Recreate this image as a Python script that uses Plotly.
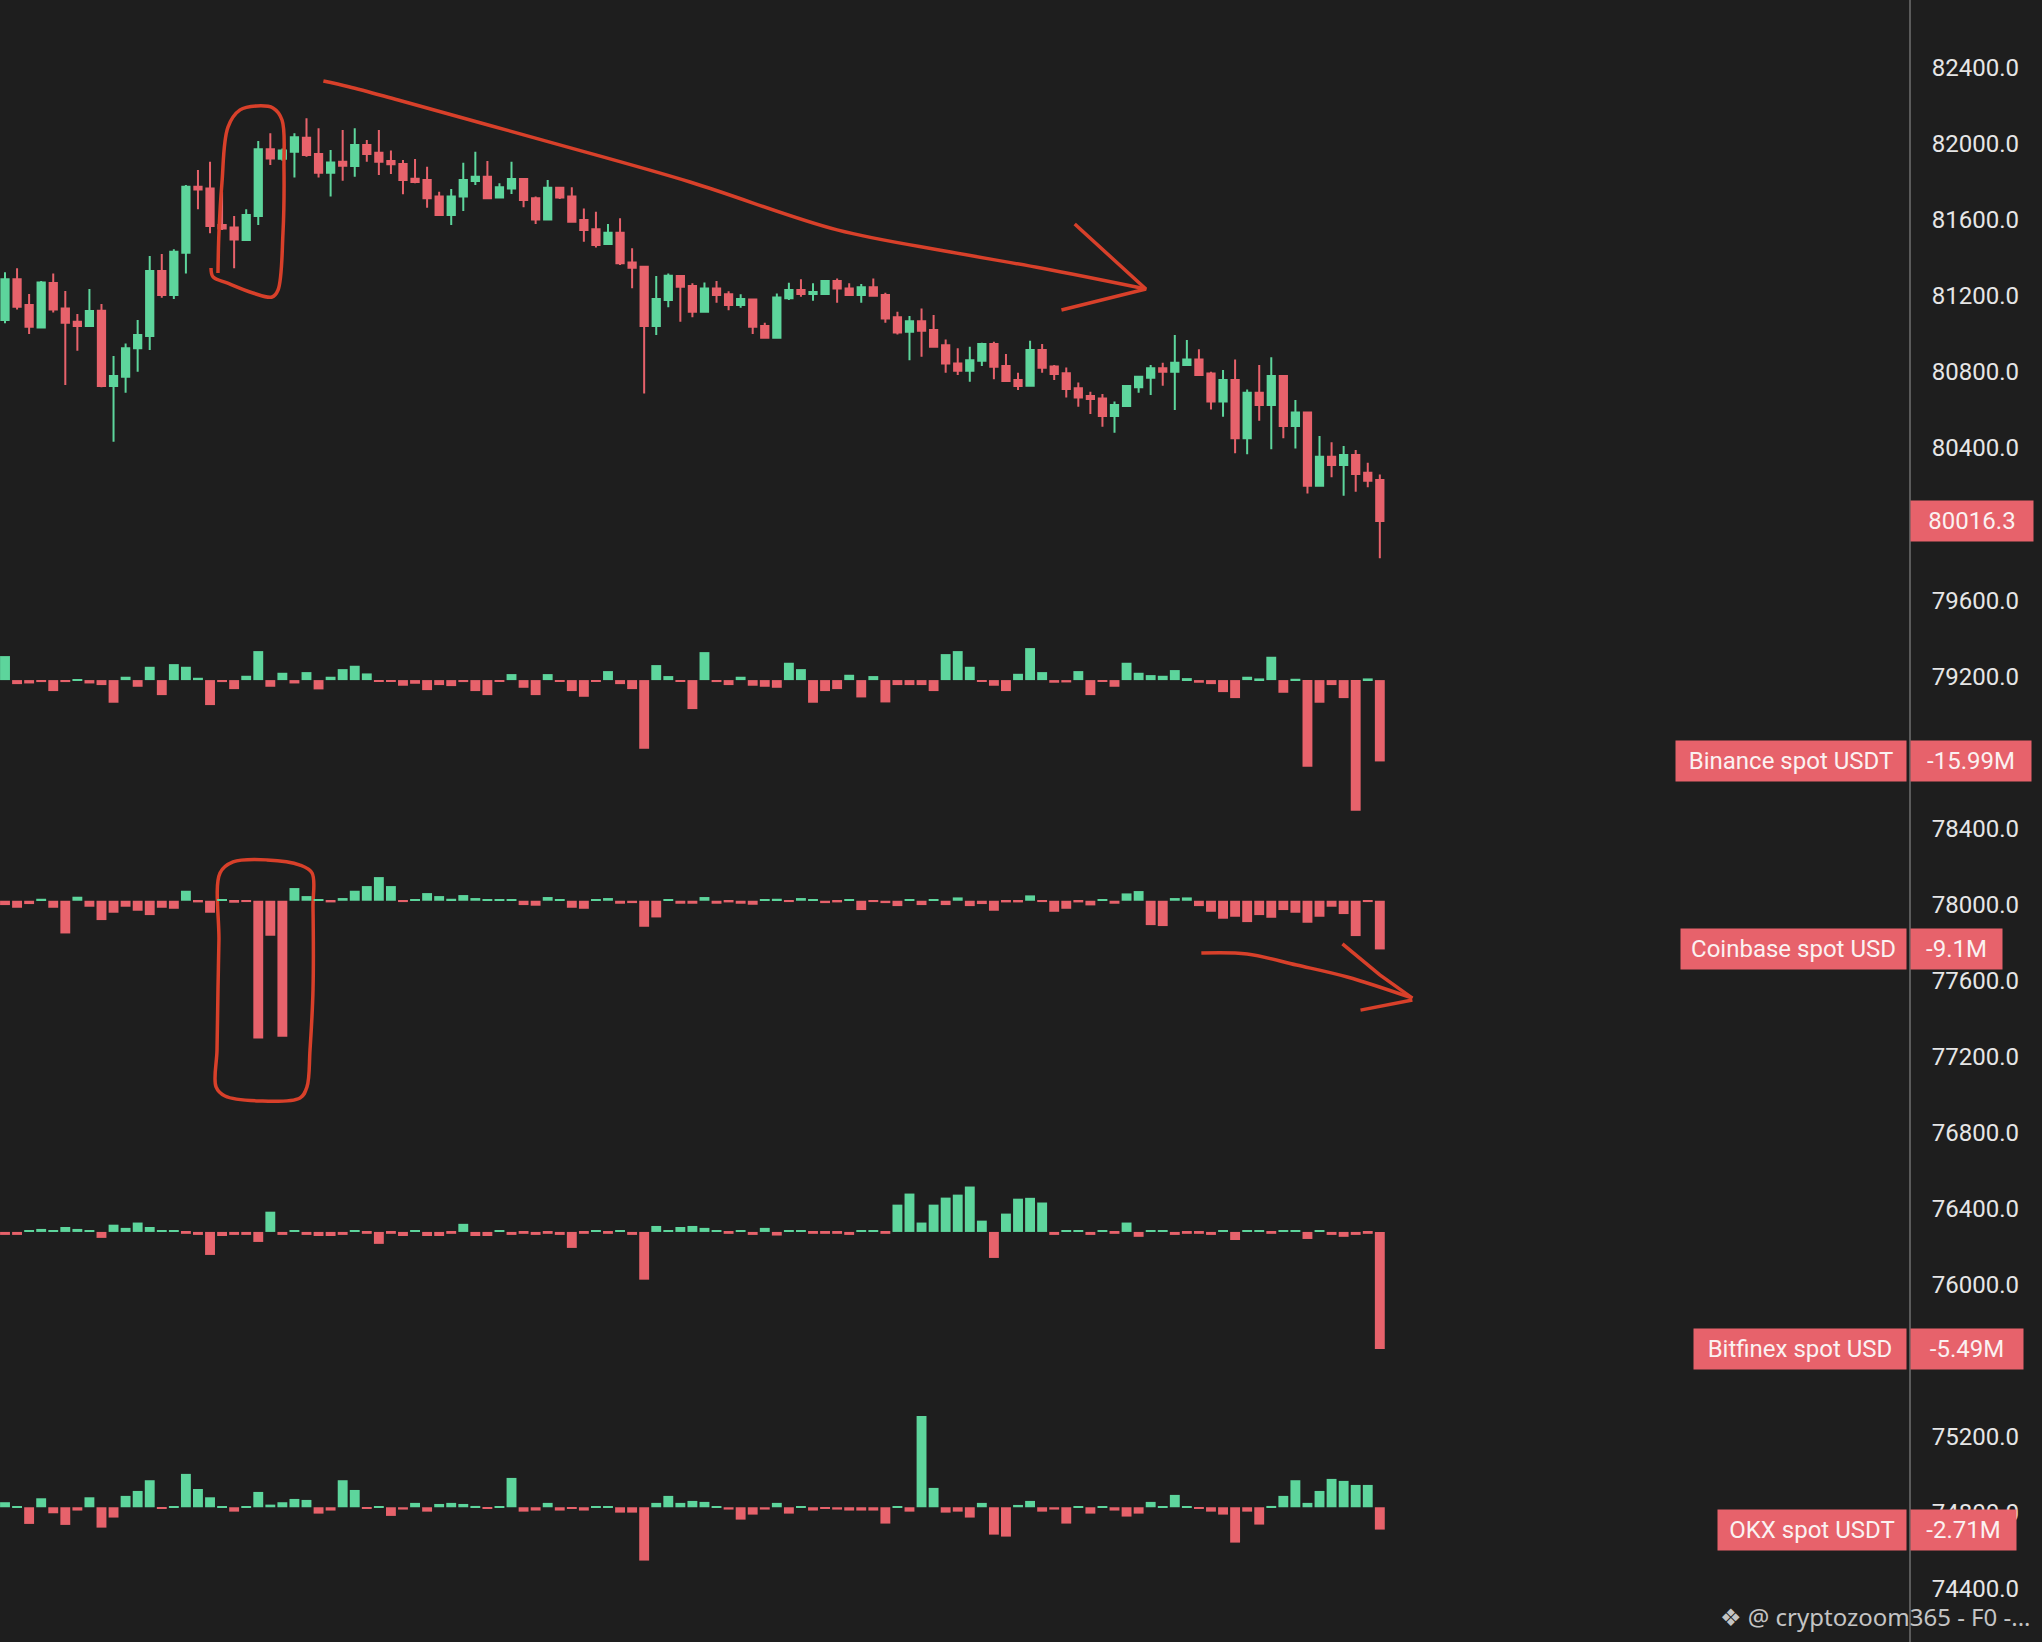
import plotly.graph_objects as pgo

# ---- price candles (one per bar slot) ----
opens = [81073, 81287, 81152, 81034, 81268, 81134, 81064, 81041, 81122, 80726,
         80775, 80924, 80989, 81331, 81204, 81427, 81774, 81765, 81573, 81560,
         81494, 81620, 81971, 81921, 81958, 82032, 81946, 81848, 81906, 81883,
         81993, 81953, 81909, 81893, 81816, 81809, 81722, 81625, 81722, 81804,
         81827, 81718, 81765, 81815, 81713, 81602, 81769, 81722, 81599, 81550,
         81473, 81532, 81376, 81353, 81041, 81178, 81304, 81252, 81117, 81239,
         81209, 81152, 81181, 81041, 80980, 81187, 81231, 81210, 81210, 81278,
         81239, 81204, 81245, 81204, 81087, 81011, 81067, 81020, 80941, 80845,
         80806, 80859, 80947, 80831, 80757, 80728, 80915, 80828, 80793, 80714,
         80673, 80661, 80568, 80621, 80719, 80770, 80819, 80801, 80836, 80866,
         80792, 80644, 80757, 80451, 80691, 80626, 80779, 80516, 80587, 80202,
         80354, 80311, 80363, 80270, 80232]
highs = [81324, 81345, 81210, 81278, 81318, 81226, 81105, 81236, 81157, 80884,
         80950, 81073, 81410, 81420, 81445, 81783, 81862, 81906, 81748, 81620,
         81655, 82014, 82055, 81975, 82055, 82134, 82081, 81967, 82072, 82081,
         82020, 82072, 81964, 81914, 81920, 81879, 81748, 81762, 81900, 81958,
         81909, 81792, 81906, 81815, 81722, 81809, 81771, 81771, 81660, 81643,
         81578, 81608, 81450, 81353, 81304, 81318, 81304, 81266, 81271, 81278,
         81225, 81208, 81181, 81059, 81213, 81269, 81287, 81266, 81283, 81292,
         81266, 81262, 81292, 81216, 81117, 81094, 81134, 81099, 80971, 80924,
         80932, 80954, 80959, 80894, 80796, 80964, 80947, 80836, 80824, 80745,
         80696, 80684, 80644, 80726, 80778, 80836, 80849, 80994, 80968, 80919,
         80801, 80810, 80866, 80708, 80836, 80877, 80779, 80652, 80587, 80463,
         80430, 80410, 80389, 80323, 80261]
lows = [81056, 81129, 80999, 81031, 81112, 80731, 80912, 81041, 80719, 80433,
        80691, 80801, 80915, 81190, 81183, 81318, 81655, 81529, 81546, 81345,
        81490, 81573, 81888, 81910, 81823, 81932, 81823, 81722, 81806, 81827,
        81906, 81836, 81841, 81734, 81792, 81664, 81620, 81573, 81646, 81783,
        81708, 81718, 81736, 81666, 81578, 81602, 81709, 81585, 81485, 81455,
        81473, 81362, 81240, 80687, 80994, 81140, 81064, 81087, 81117, 81164,
        81125, 81138, 81000, 80975, 80975, 81178, 81195, 81174, 81210, 81164,
        81199, 81164, 81201, 81059, 80997, 80862, 80880, 80929, 80796, 80784,
        80748, 80831, 80761, 80747, 80705, 80728, 80796, 80757, 80665, 80617,
        80579, 80512, 80480, 80621, 80691, 80679, 80728, 80600, 80831, 80780,
        80603, 80565, 80372, 80367, 80544, 80393, 80451, 80398, 80161, 80202,
        80246, 80149, 80170, 80193, 79820]
closes = [81287, 81143, 81038, 81271, 81129, 81059, 81041, 81120, 80726, 80779,
          80924, 80994, 81331, 81204, 81432, 81774, 81760, 81567, 81555, 81497,
          81625, 81971, 81923, 81964, 82034, 81941, 81848, 81902, 81885, 81993,
          81946, 81906, 81892, 81809, 81799, 81713, 81625, 81722, 81809, 81827,
          81713, 81771, 81815, 81704, 81602, 81769, 81718, 81590, 81546, 81467,
          81532, 81371, 81348, 81041, 81183, 81306, 81248, 81117, 81239, 81204,
          81152, 81183, 81038, 80980, 81192, 81231, 81210, 81220, 81278, 81239,
          81204, 81245, 81201, 81081, 81008, 81067, 81017, 80932, 80845, 80806,
          80862, 80947, 80827, 80752, 80726, 80915, 80822, 80789, 80710, 80666,
          80658, 80568, 80626, 80726, 80775, 80819, 80801, 80849, 80866, 80784,
          80644, 80757, 80451, 80691, 80626, 80779, 80516, 80587, 80202, 80354,
          80311, 80363, 80263, 80228, 80016.3]

# ---- spot flow bars per exchange, millions ----
binance = [4.72, -0.79, -0.66, -0.39, -2.16, -0.39, 0.20, -0.66, -0.98, -4.45,
           0.66, -1.31, 2.62, -2.95, 3.14, 2.62, 0.46, -4.91, -0.39, -1.77,
           0.85, 5.70, -1.31, 1.44, -0.66, 1.57, -1.83, 0.66, 2.16, 2.82,
           1.31, -0.20, -0.20, -1.11, -0.72, -1.97, -0.98, -1.18, -0.39, -2.16,
           -2.95, -0.26, 1.18, -1.51, -2.95, 1.18, -0.26, -2.16, -3.28, -0.26,
           1.77, -0.79, -1.77, -13.50, 2.95, 0.79, -0.26, -5.70, 5.50, -0.39,
           -0.98, 0.66, -1.11, -1.31, -1.51, 3.41, 2.16, -4.45, -2.16, -1.77,
           1.05, -3.41, 0.79, -4.39, -0.98, -0.98, -0.98, -2.16, 5.11, 5.70,
           2.62, -0.26, -1.11, -2.16, 1.24, 6.29, 1.57, -0.52, -0.46, 1.77,
           -2.95, -0.33, -1.31, 3.41, 1.44, 0.98, 0.85, 1.97, 0.39, -0.52,
           -0.79, -2.36, -3.54, 0.66, 0.33, 4.59, -2.49, 0.26, -17.03, -4.45,
           -0.98, -3.54, -25.68, 0.33, -15.99]
coinbase = [-0.81, -1.31, -0.62, 0.37, -1.31, -6.11, 0.75, -1.12, -3.61, -2.24,
            -1.12, -1.87, -2.68, -1.31, -1.50, 1.87, -0.31, -2.24, 0.25, -0.37,
            -0.25, -25.73, -6.54, -25.42, 2.37, 0.87, 0.31, -0.31, 0.50, 1.87,
            2.74, 4.42, 2.74, -0.25, 0.25, 1.43, 0.87, 0.37, 1.06, 0.50,
            0.25, 0.25, 0.25, -0.81, -0.93, 0.69, 0.25, -1.31, -1.50, 0.25,
            0.50, -0.56, -0.44, -4.86, -3.12, 0.25, -0.56, -0.56, 0.69, -0.56,
            -0.31, -0.56, -0.75, 0.25, 0.37, -0.25, 0.50, 0.31, -0.44, -0.31,
            0.25, -1.74, -0.25, -0.44, -1.00, 0.25, -0.81, 0.25, -0.81, 0.62,
            -1.00, -0.62, -1.87, -0.31, -0.31, 1.00, -0.25, -2.06, -1.50, -0.31,
            -0.87, 0.25, -0.56, 1.37, 1.81, -4.55, -4.73, 0.50, 0.62, -1.00,
            -2.06, -3.36, -2.99, -3.99, -2.68, -3.18, -1.74, -2.24, -4.11, -2.99,
            -1.12, -2.49, -6.60, -0.25, -9.10]
bitfinex = [-0.14, -0.14, 0.05, 0.14, 0.05, 0.23, 0.14, 0.05, -0.28, 0.34,
            0.19, 0.44, 0.23, 0.05, 0.09, -0.09, -0.14, -1.08, -0.19, -0.14,
            -0.14, -0.47, 0.95, -0.14, 0.05, -0.14, -0.19, -0.19, -0.14, 0.05,
            -0.09, -0.56, -0.09, -0.19, 0.05, -0.19, -0.19, -0.09, 0.38, -0.19,
            -0.19, 0.05, -0.14, -0.09, -0.14, -0.09, -0.14, -0.75, -0.09, 0.05,
            -0.09, 0.05, -0.14, -2.24, 0.28, 0.05, 0.23, 0.28, 0.19, 0.05,
            -0.09, 0.05, -0.14, 0.19, -0.17, 0.05, 0.05, -0.09, -0.09, -0.09,
            -0.14, 0.05, 0.05, -0.09, 1.28, 1.80, 0.44, 1.28, 1.61, 1.75,
            2.13, 0.53, -1.22, 0.86, 1.56, 1.60, 1.38, -0.14, 0.05, 0.09,
            -0.14, 0.09, -0.09, 0.44, -0.23, 0.05, 0.05, -0.14, -0.09, -0.09,
            -0.14, 0.05, -0.38, 0.09, 0.05, -0.09, 0.05, 0.09, -0.33, 0.05,
            -0.14, -0.23, -0.14, -0.09, -5.49]
okx = [0.61, 0.12, -2.02, 1.09, -0.73, -2.14, -0.40, 1.21, -2.47, -1.25,
       1.38, 1.98, 3.28, -0.20, 0.12, 4.05, 2.22, 1.21, 0.12, -0.53,
       0.12, 1.86, 0.32, 0.61, 1.01, 0.89, -0.77, -0.40, 3.28, 2.10,
       -0.16, 0.12, -1.05, -0.28, 0.53, -0.53, 0.40, 0.53, 0.40, 0.16,
       -0.16, 0.12, 3.56, -0.53, -0.40, 0.53, -0.40, -0.20, -0.40, 0.12,
       0.12, -0.65, -0.65, -6.47, 0.53, 1.38, 0.53, 0.77, 0.65, 0.12,
       -0.28, -1.50, -0.89, -0.28, 0.53, -0.77, 0.12, -0.40, -0.16, -0.28,
       -0.40, -0.40, -0.40, -1.98, 0.12, -0.53, 11.08, 2.35, -0.65, -0.53,
       -1.25, 0.53, -3.32, -3.56, 0.28, 0.77, -0.53, -0.28, -1.98, 0.12,
       -0.77, 0.12, -0.40, -1.13, -0.77, 0.65, 0.12, 1.50, 0.12, -0.16,
       -0.53, -0.89, -4.29, -0.53, -2.10, 0.16, 1.38, 3.28, 0.53, 1.98,
       3.44, 3.20, 2.71, 2.71, -2.71]

flow_names = ["Binance spot USDT", "Coinbase spot USD", "Bitfinex spot USD", "OKX spot USDT"]
flow_labels = ["-15.99M", "-9.1M", "-5.49M", "-2.71M"]
last_price_label = "80016.3"

# ---- hand drawn marks, (bar index, price) ----
trend_arrow = [(26.4, 82330), (28.5, 82300), (32.6, 82230), (44.8, 82015), (56.8, 81799),
               (69.0, 81547), (78.4, 81431), (86.0, 81345), (94.6, 81236)]
trend_head = [(88.7, 81578), (94.6, 81236), (87.6, 81126)]
candle_loop = [(17.66, 81320), (17.74, 81531), (17.99, 81794), (18.49, 82088), (19.49, 82178),
               (20.90, 82199), (22.22, 82188), (22.97, 82125), (23.13, 81878), (23.05, 81531),
               (22.64, 81231), (22.14, 81194), (20.56, 81215), (18.41, 81268), (17.25, 81300),
               (17.08, 81347)]
flow_loop = [(17.83, 78165), (18.91, 78223), (21.72, 78234), (24.46, 78207), (25.46, 78165),
             (25.54, 77986), (25.54, 77550), (25.29, 77234), (25.04, 77040), (24.46, 76982),
             (21.14, 76966), (18.24, 76992), (17.50, 77040), (17.58, 77234), (17.66, 77550),
             (17.74, 77813), (17.83, 78165)]
flow_arrow = [(99.2, 77744), (103.0, 77739), (107.1, 77681), (111.3, 77618), (116.7, 77507)]
flow_head_a = [(110.9, 77792), (114.0, 77629), (116.7, 77507)]
flow_head_b = [(112.4, 77444), (116.7, 77497)]

GREEN = "#5dd59c"
RED = "#e7626b"
INK = "#d8402a"
BG = "#1e1e1e"
FONT = "Roboto, Liberation Sans, sans-serif"

idx = list(range(len(closes)))

fig = pgo.Figure()

fig.add_trace(pgo.Candlestick(x=idx, open=opens, high=highs, low=lows, close=closes,
                              increasing=dict(line=dict(color=GREEN, width=2), fillcolor=GREEN),
                              decreasing=dict(line=dict(color=RED, width=2), fillcolor=RED),
                              whiskerwidth=0, showlegend=False, hoverinfo="skip"))

flows = [binance, coinbase, bitfinex, okx]
for k, vals in enumerate(flows):
    fig.add_trace(pgo.Bar(x=idx, y=vals, width=0.82,
                          marker=dict(color=[GREEN if v >= 0 else RED for v in vals], line_width=0),
                          yaxis="y%d" % (k + 2), showlegend=False, hoverinfo="skip"))

for pts in [trend_arrow, candle_loop, flow_loop, flow_arrow]:
    fig.add_trace(pgo.Scatter(x=[p[0] for p in pts], y=[p[1] for p in pts], mode="lines",
                              line=dict(color=INK, width=3.5, shape="spline", smoothing=1.0),
                              showlegend=False, hoverinfo="skip"))
for pts in [trend_head, flow_head_a, flow_head_b]:
    fig.add_trace(pgo.Scatter(x=[p[0] for p in pts], y=[p[1] for p in pts], mode="lines",
                              line=dict(color=INK, width=3.5),
                              showlegend=False, hoverinfo="skip"))

# overlay axes: baseline placement for each flow row
flow_ranges = [[-189.1, 133.7], [-138.5, 168.3], [-19.24, 57.8], [-16.35, 182.9]]
for k, rng in enumerate(flow_ranges):
    fig.layout["yaxis%d" % (k + 2)] = dict(overlaying="y", range=rng, visible=False, fixedrange=True)

fig.update_layout(
    width=2042, height=1642,
    paper_bgcolor=BG, plot_bgcolor=BG,
    margin=dict(l=0, r=133, t=0, b=0),
    barmode="overlay", boxgap=0.14,
    xaxis=dict(range=[-0.415, 157.88], visible=False, rangeslider=dict(visible=False)),
    yaxis=dict(range=[74121, 82756], side="right", dtick=400, tick0=0, tickformat=".1f",
               showgrid=False, zeroline=False, showline=True, linecolor="#5a5a5a", linewidth=2,
               ticks="", ticklabelstandoff=16,
               tickfont=dict(family=FONT, size=24, color="#e6e6e6")),
)

box_font = dict(family=FONT, size=24, color="#fbf1f1")
name_widths = [216, 211, 198, 174]
value_widths = [106, 77, 98, 91]
for k, vals in enumerate(flows):
    yref = "y%d" % (k + 2)
    fig.add_annotation(xref="paper", x=1, xanchor="right", xshift=-2, yref=yref, y=vals[-1],
                       yanchor="middle", text=flow_names[k], showarrow=False, font=box_font,
                       bgcolor=RED, borderpad=7, height=26, width=name_widths[k])
    fig.add_annotation(xref="paper", x=1, xanchor="left", xshift=1, yref=yref, y=vals[-1],
                       yanchor="middle", text=flow_labels[k], showarrow=False, font=box_font,
                       bgcolor=RED, borderpad=7, height=26, width=value_widths[k])

fig.add_annotation(xref="paper", x=1, xanchor="left", xshift=1, yref="y", y=closes[-1],
                   yanchor="middle", text=last_price_label, showarrow=False, font=box_font,
                   bgcolor=RED, borderpad=7, height=26, width=108)

fig.add_annotation(xref="paper", x=1, xanchor="right", xshift=124, yref="paper", y=0.0158,
                   yanchor="middle", text="❖ @ cryptozoom365 - F0 -...", showarrow=False,
                   font=dict(family="Noto Sans, DejaVu Sans, sans-serif", size=24, color="#c4c4c4"))

fig.write_html("out.html", config={"displayModeBar": False},
               post_script="document.body.style.margin='0';document.body.style.background='%s';" % BG)
